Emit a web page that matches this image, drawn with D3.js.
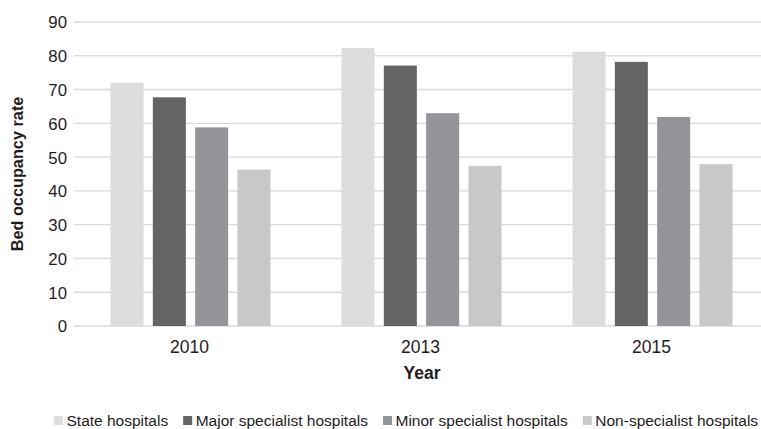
<!DOCTYPE html>
<html>
<head>
<meta charset="utf-8">
<script src="https://cdn.jsdelivr.net/npm/d3@7"></script>
<style>
  html, body { margin: 0; padding: 0; background: #fff; }
  svg { display: block; font-family: "Liberation Sans", Arial, Helvetica, sans-serif; }
</style>
</head>
<body>
<svg id="chart" width="761" height="429"></svg>
<script>
const years = ["2010", "2013", "2015"];
const seriesNames = ["State hospitals", "Major specialist hospitals", "Minor specialist hospitals", "Non-specialist hospitals"];
const stateHospitals = [72, 82.3, 81.2];
const majorSpecialist = [67.7, 77.1, 78.2];
const minorSpecialist = [58.8, 63.0, 61.9];
const nonSpecialist = [46.3, 47.4, 47.9];
const yTicks = [0, 10, 20, 30, 40, 50, 60, 70, 80, 90];
const colors = ["#dcdddf", "#636466", "#939598", "#c7c8ca"];

const seriesValues = [stateHospitals, majorSpecialist, minorSpecialist, nonSpecialist];
const data = years.map((y, i) => ({ year: y, values: seriesNames.map((s, j) => ({ key: s, value: seriesValues[j][i] })) }));

const svg = d3.select("#chart");
const margin = { left: 74, right: 767, top: 22, bottom: 326 };
const textColor = "#1f1c1d";

const x0 = d3.scaleBand().domain(years).range([margin.left, margin.right]).padding(0);
const x1 = d3.scaleBand().domain(seriesNames).range([36.5, 196.5]).paddingInner(0.22).paddingOuter(0);
const y = d3.scaleLinear().domain([0, 90]).range([margin.bottom, margin.top]);

// gridlines
svg.append("g").selectAll("line").data(yTicks).join("line")
  .attr("x1", margin.left).attr("x2", margin.right)
  .attr("y1", d => y(d)).attr("y2", d => y(d))
  .attr("stroke", "#dadada").attr("stroke-width", 1.4);

// y axis labels
const yAxis = d3.axisLeft(y).tickValues(yTicks).tickSize(0).tickPadding(0);
const yg = svg.append("g").attr("transform", `translate(${margin.left - 7},0)`).call(yAxis);
yg.select(".domain").remove();
yg.selectAll("text").attr("font-size", 16.8).attr("fill", textColor).attr("font-family", "Liberation Sans, Arial, sans-serif").attr("dy", "0.35em");

// bars
const groups = svg.append("g").selectAll("g").data(data).join("g")
  .attr("transform", d => `translate(${x0(d.year)},0)`);
groups.selectAll("rect").data(d => d.values).join("rect")
  .attr("x", d => x1(d.key))
  .attr("width", x1.bandwidth())
  .attr("y", d => y(d.value))
  .attr("height", d => y(0) - y(d.value))
  .attr("fill", (d, i) => colors[i]);

// x axis labels
const xAxis = d3.axisBottom(x0).tickSize(0).tickPadding(0);
const xg = svg.append("g").attr("transform", `translate(0,${margin.bottom})`).call(xAxis);
xg.select(".domain").remove();
xg.selectAll("text").attr("font-size", 17.5).attr("fill", textColor)
  .attr("font-family", "Liberation Sans, Arial, sans-serif").attr("y", 27).attr("dy", 0);

// axis titles
svg.append("text").attr("x", 422).attr("y", 379).attr("text-anchor", "middle")
  .attr("font-size", 17.5).attr("font-weight", "bold").attr("fill", textColor).text("Year");
svg.append("text").attr("transform", "translate(23,174) rotate(-90)").attr("text-anchor", "middle")
  .attr("font-size", 16.3).attr("font-weight", "bold").attr("fill", textColor).text("Bed occupancy rate");

// legend
const legend = svg.append("g");
let lx = 54;
seriesNames.forEach((s, i) => {
  legend.append("rect").attr("x", lx).attr("y", 416).attr("width", 9).attr("height", 9).attr("fill", colors[i]);
  const t = legend.append("text").attr("x", lx + 12.5).attr("y", 425.5)
    .attr("font-size", 15.5).attr("fill", textColor).text(s);
  lx += 12.5 + t.node().getComputedTextLength() + 15;
});
</script>
</body>
</html>
